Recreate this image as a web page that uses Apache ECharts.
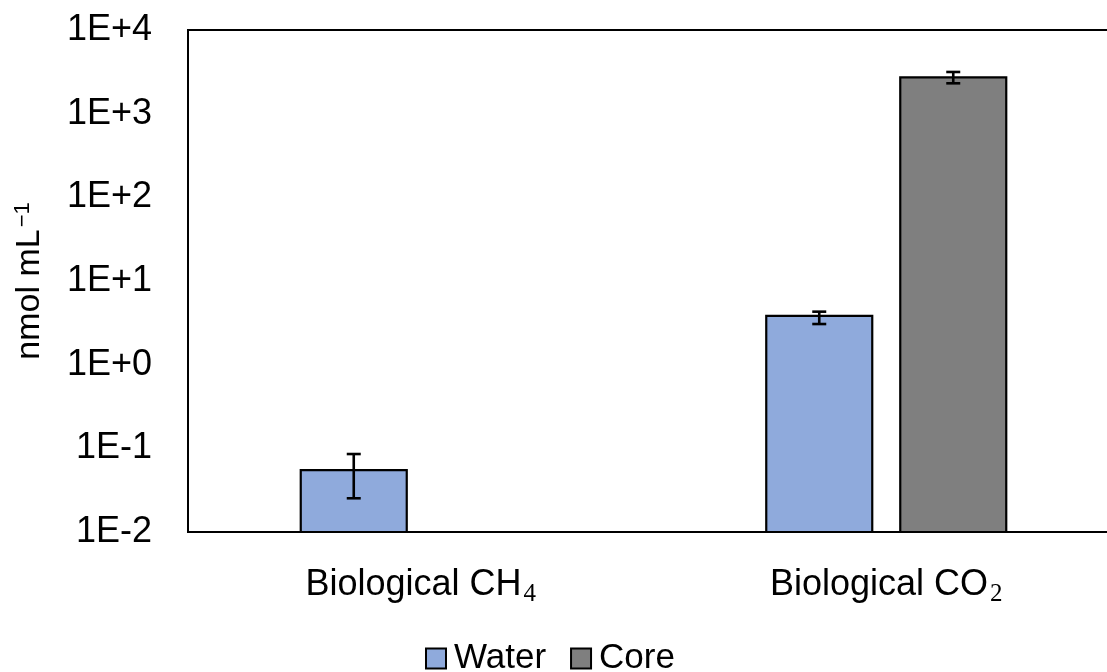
<!DOCTYPE html>
<html>
<head>
<meta charset="utf-8">
<script src="https://cdn.jsdelivr.net/npm/echarts@6/dist/echarts.min.js"></script>
<style>html,body{margin:0;padding:0;background:#fff;}#c{width:1107px;height:672px;}</style>
</head>
<body>
<div id="c"></div>
<script>
var categories = ['Biological CH{sub|4}', 'Biological CO{sub|2}'];
var seriesNames = ['Water', 'Core'];
var waterValues = [0.055, 3.82];
var coreValues = [null, 2716];
// error bars: [low, high] per category
var waterErr = [[0.0253, 0.0855], [3.06, 4.30]];
var coreErr = [null, [2306, 3150]];
var yTicks = [0.01, 0.1, 1, 10, 100, 1000, 10000];

var FONT = 'Liberation Sans, Arial, sans-serif';
var BAR_W = 106;
var BAR_GAP_PX = 28;
var COLORS = ['#8FAADC', '#7F7F7F'];

function barSeries(name, values, side, color) {
  var data = [];
  values.forEach(function (v, i) { if (v != null) data.push([i, v]); });
  return {
    name: name,
    type: 'custom',
    z: 5,
    data: data,
    encode: { x: 0, y: 1 },
    itemStyle: { color: color, borderColor: '#000', borderWidth: 2 },
    renderItem: function (params, api) {
      var off = side * (BAR_W + BAR_GAP_PX) / 2;
      var base = api.coord([api.value(0), yTicks[0]]);
      var top = api.coord([api.value(0), api.value(1)]);
      return {
        type: 'rect',
        shape: { x: top[0] + off - BAR_W / 2, y: top[1], width: BAR_W, height: base[1] - top[1] },
        style: { fill: color, stroke: '#000', lineWidth: 2.2 }
      };
    }
  };
}

function errSeries(errs, side) {
  var data = [];
  errs.forEach(function (e, i) { if (e) data.push([i, e[0], e[1]]); });
  return {
    type: 'custom',
    silent: true,
    z: 10,
    data: data,
    encode: { x: 0, y: [1, 2] },
    renderItem: function (params, api) {
      var off = side * (BAR_W + BAR_GAP_PX) / 2;
      var lo = api.coord([api.value(0), api.value(1)]);
      var hi = api.coord([api.value(0), api.value(2)]);
      var x = lo[0] + off;
      var cap = 7;
      var st = { stroke: '#000', lineWidth: 2.6 };
      return {
        type: 'group',
        children: [
          { type: 'line', shape: { x1: x, y1: lo[1], x2: x, y2: hi[1] }, style: st },
          { type: 'line', shape: { x1: x - cap, y1: lo[1], x2: x + cap, y2: lo[1] }, style: st },
          { type: 'line', shape: { x1: x - cap, y1: hi[1], x2: x + cap, y2: hi[1] }, style: st }
        ]
      };
    }
  };
}

var chart = echarts.init(document.getElementById('c'), null, { renderer: 'canvas' });
chart.setOption({
  animation: false,
  textStyle: { fontFamily: FONT, color: '#000' },
  grid: {
    left: 188, top: 30, width: 931, height: 502,
    outerBoundsMode: 'none', containLabel: false,
    show: true, borderColor: '#000', borderWidth: 2, backgroundColor: 'transparent'
  },
  legend: {
    data: seriesNames,
    left: 425, top: 641, padding: 0,
    icon: 'rect', itemWidth: 20, itemHeight: 20, itemGap: 24,
    itemStyle: { borderColor: '#000', borderWidth: 2 },
    textStyle: { fontFamily: FONT, fontSize: 35, color: '#000', padding: [0, 0, 0, 3] }
  },
  xAxis: {
    type: 'category',
    data: categories,
    axisLine: { lineStyle: { color: '#000', width: 2 } },
    axisTick: { show: false },
    axisLabel: {
      margin: 32,
      fontSize: 36, color: '#000', fontFamily: FONT,
      rich: {
        sub: { fontSize: 25, fontFamily: 'Liberation Serif, serif', color: '#000', verticalAlign: 'bottom', padding: [18, 0, 0, 2] }
      }
    }
  },
  yAxis: {
    type: 'log',
    logBase: 10,
    min: yTicks[0], max: yTicks[yTicks.length - 1],
    splitLine: { show: false },
    axisLine: { show: true, lineStyle: { color: '#000', width: 2 } },
    axisTick: { show: false },
    axisLabel: {
      margin: 36, fontSize: 36, color: '#000', fontFamily: FONT,
      formatter: function (v) {
        var e = Math.round(Math.log10(v));
        return '1E' + (e >= 0 ? '+' : '') + e;
      }
    },
    name: 'nmol mL{sup|\u22121}',
    nameLocation: 'middle',
    nameGap: 140,
    nameRotate: 90,
    nameTextStyle: {
      fontSize: 34, color: '#000', fontFamily: FONT,
      rich: { sup: { fontSize: 22, fontFamily: FONT, color: '#000', verticalAlign: 'top', padding: [0, 0, 14, 2] } }
    }
  },
  series: [
    barSeries(seriesNames[0], waterValues, -1, COLORS[0]),
    barSeries(seriesNames[1], coreValues, 1, COLORS[1]),
    errSeries(waterErr, -1),
    errSeries(coreErr, 1)
  ]
});
</script>
</body>
</html>
